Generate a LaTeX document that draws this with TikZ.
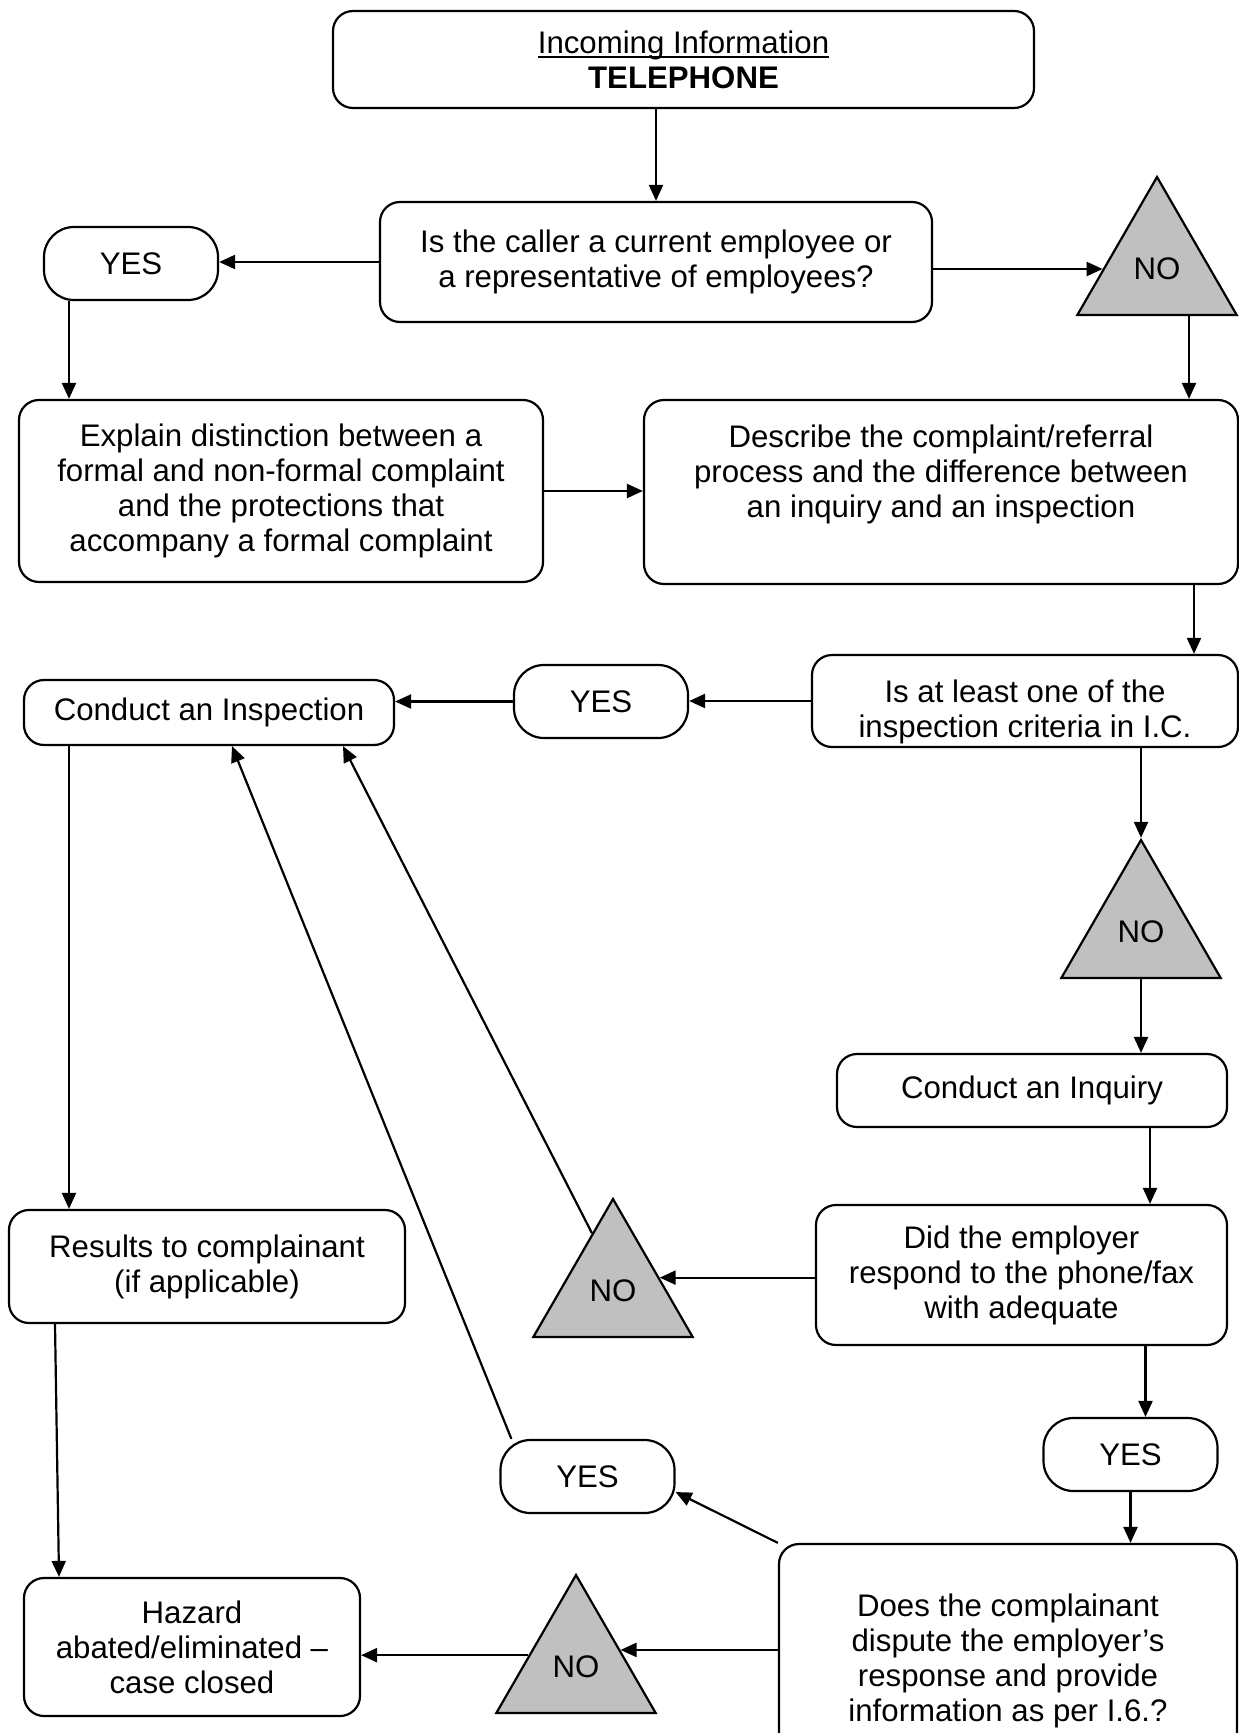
\documentclass[tikz,border=0pt]{standalone}
\usepackage{fontspec}
\setmainfont{Liberation Sans}
\usetikzlibrary{shapes.geometric,arrows.meta}
\definecolor{nogray}{RGB}{192,192,192}
\newcommand\ulinetext[1]{\setbox0\hbox{#1}\rlap{\rule[-2.6pt]{\wd0}{1pt}}\box0}
\tikzset{
  box/.style={draw,rounded corners=10pt,align=center,inner sep=0pt,line width=1.1pt},
  yesbox/.style={draw,rounded corners=15pt,inner sep=0pt,line width=1.1pt,
    minimum width=87pt,minimum height=36.5pt},
  nobox/.style={draw,fill=nogray,regular polygon,regular polygon sides=3,
    minimum size=92pt,inner sep=0pt,line width=1.1pt},
  arr/.style={-{Triangle[length=8pt,width=7pt]},line width=1.1pt}
}
\begin{document}
\begin{tikzpicture}[x=0.5pt,y=-0.5pt,font=\fontsize{15.6pt}{17.5pt}\selectfont]
   \useasboundingbox (0,0) rectangle (1238,1733);
   % Start
   \node[box,minimum width=350.5pt,minimum height=48.5pt] (start) at (683.5,59.5)
     {\ulinetext{Incoming Information}\\\textbf{TELEPHONE}};
   % Caller
   \node[box,minimum width=276pt,minimum height=60pt] (caller) at (656,262)
     {Is the caller a current employee or\\a representative of employees?};
   \node[yesbox] (yes1) at (131,263.5) {YES};
   \node[nobox] (no1) at (1157,269) {NO};
   \node[box,minimum width=262pt,minimum height=91pt] (explain) at (281,491)
     {Explain distinction between a\\formal and non-formal complaint\\and the protections that\\accompany a formal complaint};
   \node[box,minimum width=297pt,minimum height=92pt] (describe) at (941,492)
     {Describe the complaint/referral\\process and the difference between\\an inquiry and an inspection\rule[-21pt]{0pt}{0pt}};
   % Criteria
   \node[box,minimum width=213pt,minimum height=46pt] (criteria) at (1025,701)
     {\rule{0pt}{22pt}Is at least one of the\\inspection criteria in I.C.};
   \node[yesbox] (yes2) at (601,701.5) {YES};
   \node[box,minimum width=185pt,minimum height=32.5pt] (inspect) at (209,712.5)
     {Conduct an Inspection};
   \node[nobox] (no2) at (1141,932) {NO};
   % Inquiry
   \node[box,minimum width=195pt,minimum height=36.5pt] (inquiry) at (1032,1090.5)
     {Conduct an Inquiry};
   \node[box,minimum width=205.5pt,minimum height=70pt] (employer) at (1021.5,1275)
     {Did the employer\\respond to the phone/fax\\with adequate};
   \node[nobox] (no3) at (613,1291) {NO};
   \node[yesbox] (yes3) at (1130.5,1454.5) {YES};
   \node[box,minimum width=198pt,minimum height=56.5pt] (results) at (207,1266.5)
     {Results to complainant\\(if applicable)};
   % Dispute
   \node[box,minimum width=229pt,minimum height=117pt] (dispute) at (1008,1661)
     {Does the complainant\\dispute the employer’s\\response and provide\\information as per I.6.?};
   \node[yesbox] (yes4) at (587.5,1476.5) {YES};
   \node[nobox] (no5) at (576,1667) {NO};
   \node[box,minimum width=168pt,minimum height=69pt] (hazard) at (192,1647)
     {Hazard\\abated/eliminated –\\case closed};
   % Connectors
   \draw[arr] (start.south -| caller.north) -- (caller.north);
   \draw[arr] (caller.west) -- (caller.west -| yes1.east);
   \draw[arr] (caller.east |- no1.west) -- (no1.west);
   \draw[arr] ([xshift=-31pt]yes1.south) -- ([xshift=-31pt]yes1.south |- explain.north);
   \draw[arr] ([xshift=16pt]no1.south) -- ([xshift=16pt]no1.south |- describe.north);
   \draw[arr] (explain.east) -- (explain.east -| describe.west);
   \draw[arr] ([xshift=126.5pt]describe.south) -- ([xshift=126.5pt]describe.south |- criteria.north);
   \draw[arr] (criteria.west) -- (criteria.west -| yes2.east);
   \draw[arr] (yes2.west) -- (yes2.west -| inspect.east);
   \draw[arr] (criteria.south -| no2.corner 1) -- (no2.corner 1);
   \draw[arr] (no2.south) -- (no2.south |- inquiry.north);
   \draw[arr] ([xshift=59pt]inquiry.south) -- ([xshift=59pt]inquiry.south |- employer.north);
   \draw[arr] (employer.west |- no3.16) -- (no3.16);
   \draw[arr] (no3.110) -- ([xshift=67pt]inspect.south);
   \draw[arr] ([xshift=62pt]employer.south) -- ([xshift=62pt]employer.south |- yes3.north);
   \draw[arr] (yes3.south) -- (yes3.south |- dispute.north);
   \draw[arr] (dispute.north west) -- (yes4.-10);
   \draw[arr] ([xshift=6pt]yes4.north west) -- ([xshift=11.5pt]inspect.south);
   \draw[arr] (dispute.west |- no5.21) -- (no5.21);
   \draw[arr] (no5.166) -- (no5.166 -| hazard.east);
   \draw[arr] ([xshift=-70pt]inspect.south) -- ([xshift=-70pt]inspect.south |- results.north);
   \draw[arr] ([xshift=-76pt]results.south) -- ([xshift=-66.5pt]hazard.north);
\end{tikzpicture}
\end{document}
